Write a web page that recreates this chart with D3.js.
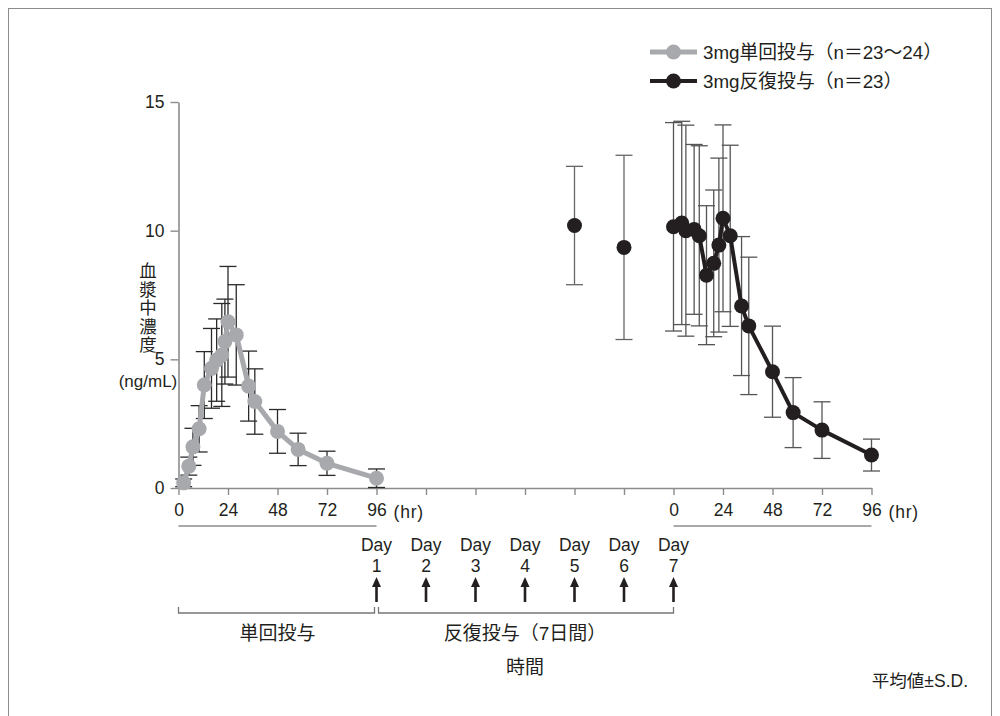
<!DOCTYPE html>
<html><head><meta charset="utf-8">
<script src="https://cdn.jsdelivr.net/npm/d3@7/dist/d3.min.js"></script>
<style>
html,body{margin:0;padding:0;background:#fff;}
svg{display:block;font-family:"Liberation Sans","Noto Sans CJK JP",sans-serif;}
</style></head>
<body>
<svg id="chart" width="1000" height="716"></svg>
<script>
// ---- data ----
const singleHours = [2.5, 5, 7, 10, 12.5, 16, 18.5, 21, 22.5, 24, 28, 34, 37, 48, 58, 72, 96];
const singleMean  = [0.2, 0.85, 1.6, 2.3, 4.0, 4.65, 4.97, 5.17, 5.69, 6.46, 5.95, 3.96, 3.36, 2.2, 1.5, 0.96, 0.38];
const singleSD    = [0.15, 0.35, 0.72, 0.9, 1.3, 1.55, 1.6, 2.0, 1.65, 2.15, 1.95, 1.36, 1.27, 0.85, 0.63, 0.47, 0.36];

const troughDays  = [5, 6];
const troughMean  = [10.2, 9.35];
const troughSD    = [2.3, 3.58];

const repeatHours = [0, 4, 6, 10, 12.5, 16, 19.5, 22, 24, 27.5, 33, 36.5, 48, 58, 72, 96];
const repeatMean  = [10.15, 10.3, 10.0, 10.05, 9.8, 8.27, 8.73, 9.44, 10.48, 9.8, 7.07, 6.3, 4.52, 2.93, 2.25, 1.28];
const repeatSD    = [4.05, 3.95, 4.1, 3.3, 3.5, 2.7, 2.85, 3.38, 3.63, 3.52, 2.7, 2.67, 1.77, 1.36, 1.1, 0.62];

const yTicks = [0, 5, 10, 15];
const hrLabels = [0, 24, 48, 72, 96];
const dayNumbers = [1, 2, 3, 4, 5, 6, 7];
const legendLabels = ["3mg単回投与（n＝23～24）", "3mg反復投与（n＝23）"];
const yLabelChars = ["血", "漿", "中", "濃", "度"];
const yLabelUnit = "(ng/mL)";
const singleLabel = "単回投与";
const repeatLabel = "反復投与（7日間）";
const xTitle = "時間";
const footnote = "平均値±S.D.";

// ---- layout ----
const TXT = "#231f20", AX = "#8c8c8c", GRAY = "#a7a9ac", BLACK = "#231f20";
const svg = d3.select("#chart");
const REPEAT_START = 240; // Day 7 dose in continuous hours
const DAY1 = 96;

const x = d3.scaleLinear().domain([0, 336]).range([178.5, 871.5]);
const y = d3.scaleLinear().domain([0, 15]).range([488, 102]);

// frame
svg.append("rect").attr("x", 8.5).attr("y", 8.5).attr("width", 983).attr("height", 760)
  .attr("fill", "none").attr("stroke", AX).attr("stroke-width", 1);

// y axis
const gy = svg.append("g").attr("transform", "translate(178.5,0)")
  .call(d3.axisLeft(y).tickValues(yTicks).tickSize(8).tickSizeOuter(0).tickPadding(6));
// x axis
const xTickHours = d3.range(0, 337, 24);
const gx = svg.append("g").attr("transform", "translate(0,488)")
  .call(d3.axisBottom(x).tickValues(xTickHours).tickSize(7).tickSizeOuter(0).tickPadding(9)
    .tickFormat(h => h <= 96 ? (hrLabels.includes(h) ? h : "") : (h >= REPEAT_START ? h - REPEAT_START : "")));
[gx, gy].forEach(g => {
  g.select(".domain").attr("stroke", AX).attr("stroke-width", 1.6);
  g.selectAll(".tick line").attr("stroke", AX).attr("stroke-width", 1.4);
  g.selectAll("text").attr("fill", TXT).attr("font-size", 17.5).attr("font-family", "Liberation Sans, sans-serif");
});

// (hr) labels
[DAY1, 336].forEach(h => {
  svg.append("text").attr("x", x(h) + 17).attr("y", 518).attr("font-size", 17.5)
    .attr("letter-spacing", 0.8).attr("fill", TXT).text("(hr)");
});
// underlines
[[0, 96], [REPEAT_START, 336]].forEach(([a, b]) => {
  svg.append("line").attr("x1", x(a)).attr("x2", x(b)).attr("y1", 526).attr("y2", 526)
    .attr("stroke", AX).attr("stroke-width", 1.4);
});

// Day labels and arrows
dayNumbers.forEach(d => {
  const cx = x(DAY1 + 24 * (d - 1));
  svg.append("text").attr("x", cx).attr("y", 551).attr("text-anchor", "middle")
    .attr("font-size", 17.5).attr("fill", TXT).text("Day");
  svg.append("text").attr("x", cx).attr("y", 572).attr("text-anchor", "middle")
    .attr("font-size", 17.5).attr("fill", TXT).text(d);
  svg.append("line").attr("x1", cx).attr("x2", cx).attr("y1", 602).attr("y2", 584)
    .attr("stroke", BLACK).attr("stroke-width", 2.6);
  svg.append("path").attr("d", `M${cx},577 L${cx - 4.5},587 L${cx + 4.5},587 Z`).attr("fill", BLACK);
});

// bottom brackets
svg.append("path").attr("d", `M${x(0)},607 V613 H${x(DAY1) - 2} V607`)
  .attr("fill", "none").attr("stroke", "#777").attr("stroke-width", 1.3);
svg.append("path").attr("d", `M${x(DAY1) + 2},607 V613 H${x(REPEAT_START)} V607`)
  .attr("fill", "none").attr("stroke", "#777").attr("stroke-width", 1.3);
svg.append("text").attr("x", (x(0) + x(DAY1)) / 2).attr("y", 640).attr("text-anchor", "middle")
  .attr("font-size", 19).attr("fill", TXT).text(singleLabel);
svg.append("text").attr("x", (x(DAY1) + x(REPEAT_START)) / 2).attr("y", 640).attr("text-anchor", "middle")
  .attr("font-size", 19).attr("fill", TXT).text(repeatLabel);
svg.append("text").attr("x", (x(DAY1) + x(REPEAT_START)) / 2).attr("y", 674).attr("text-anchor", "middle")
  .attr("font-size", 19).attr("fill", TXT).text(xTitle);

// y label
yLabelChars.forEach((c, i) => {
  svg.append("text").attr("x", 148).attr("y", 271 + i * 18.5).attr("dominant-baseline", "central")
    .attr("text-anchor", "middle").attr("font-size", 17.5).attr("fill", TXT).text(c);
});
svg.append("text").attr("x", 148).attr("y", 381).attr("dominant-baseline", "central")
  .attr("text-anchor", "middle").attr("font-size", 17).attr("fill", TXT).text(yLabelUnit);

// footnote
svg.append("text").attr("x", 968).attr("y", 687).attr("text-anchor", "end")
  .attr("font-size", 17.5).attr("fill", TXT).text(footnote);

// ---- series ----
const single = singleHours.map((h, i) => ({ h, m: singleMean[i], sd: singleSD[i] }));
const trough = troughDays.map((d, i) => ({ h: DAY1 + 24 * (d - 1), m: troughMean[i], sd: troughSD[i] }));
const repeat = repeatHours.map((h, i) => ({ h: REPEAT_START + h, m: repeatMean[i], sd: repeatSD[i] }));

function errorBars(data, color) {
  const g = svg.append("g").attr("stroke", color).attr("stroke-width", 1.3).attr("fill", "none");
  data.forEach(d => {
    const cx = x(d.h), y1 = y(d.m + d.sd), y0 = y(Math.max(0, d.m - d.sd));
    g.append("line").attr("x1", cx).attr("x2", cx).attr("y1", y1).attr("y2", y0);
    g.append("line").attr("x1", cx - 8.5).attr("x2", cx + 8.5).attr("y1", y1).attr("y2", y1);
    g.append("line").attr("x1", cx - 8.5).attr("x2", cx + 8.5).attr("y1", y0).attr("y2", y0);
  });
}
errorBars(single, "#2a2a2a");
errorBars(trough, "#666");
errorBars(repeat, "#555");

const line = d3.line().x(d => x(d.h)).y(d => y(d.m));
svg.append("path").datum(single).attr("d", line).attr("fill", "none")
  .attr("stroke", GRAY).attr("stroke-width", 5).attr("stroke-linejoin", "round");
svg.append("path").datum(repeat).attr("d", line).attr("fill", "none")
  .attr("stroke", BLACK).attr("stroke-width", 4).attr("stroke-linejoin", "round");

function dots(data, color) {
  svg.append("g").selectAll("circle").data(data).join("circle")
    .attr("cx", d => x(d.h)).attr("cy", d => y(d.m)).attr("r", 7.5).attr("fill", color);
}
dots(single, GRAY);
dots(trough, BLACK);
dots(repeat, BLACK);

// legend
const legendColors = [GRAY, BLACK], legendWidths = [5, 4];
legendLabels.forEach((lab, i) => {
  const ly = 52 + i * 29;
  svg.append("line").attr("x1", 650).attr("x2", 697).attr("y1", ly).attr("y2", ly)
    .attr("stroke", legendColors[i]).attr("stroke-width", legendWidths[i]);
  svg.append("circle").attr("cx", 673.5).attr("cy", ly).attr("r", 7.5).attr("fill", legendColors[i]);
  svg.append("text").attr("x", 703).attr("y", ly).attr("dominant-baseline", "central")
    .attr("font-size", 18.8).attr("fill", TXT).text(lab);
});
</script>
</body></html>
